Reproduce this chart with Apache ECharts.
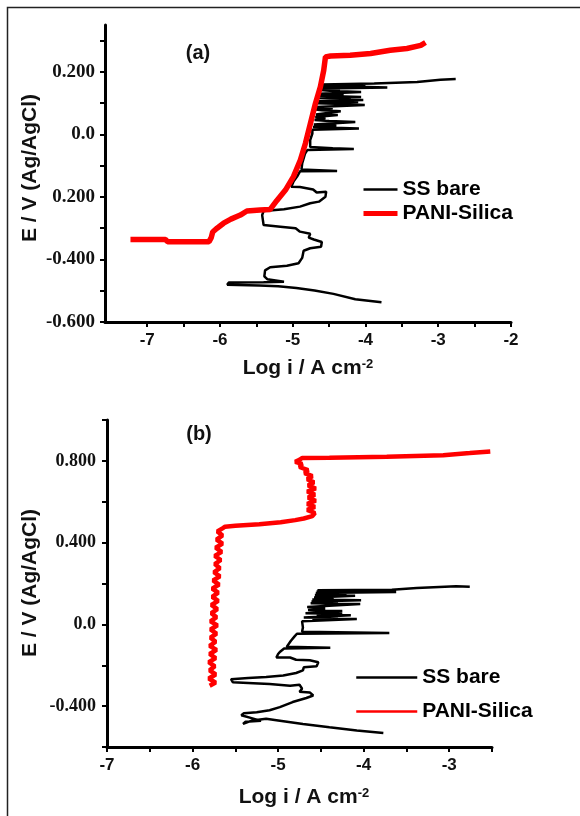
<!DOCTYPE html>
<html>
<head>
<meta charset="utf-8">
<title>Polarization curves</title>
<script src="https://cdn.jsdelivr.net/npm/echarts@6/dist/echarts.min.js"></script>
<style>html,body{margin:0;padding:0;background:#fff;}</style>
</head>
<body>
<div id="main" style="width:580px;height:816px;"></div>
<script>
// tick positions and labels
var xTicksA = [-7, -6.5, -6, -5.5, -5, -4.5, -4, -3.5, -3, -2.5, -2];
var xLabelsA = [-7, -6, -5, -4, -3, -2];
var yTicksA = [-0.6, -0.5, -0.4, -0.3, -0.2, -0.1, 0, 0.1, 0.2, 0.3];
var yLabelValuesA = [-0.6, -0.4, -0.2, 0, 0.2];
var yLabelTextsA = ['-0.600', '-0.400', '0.200', '0.0', '0.200'];

var xTicksB = [-7, -6.5, -6, -5.5, -5, -4.5, -4, -3.5, -3, -2.5];
var xLabelsB = [-7, -6, -5, -4, -3];
var yTicksB = [-0.6, -0.4, -0.2, 0, 0.2, 0.4, 0.6, 0.8, 1.0];
var yLabelValuesB = [-0.4, 0, 0.4, 0.8];
var yLabelTextsB = ['-0.400', '0.0', '0.400', '0.800'];

// panel (a) : [log i, E]
var ssBareA = [[-3.78,-0.537],[-4.14,-0.527],[-4.44,-0.510],[-4.70,-0.499],[-4.95,-0.491],[-5.20,-0.486],[-5.46,-0.483],[-5.90,-0.481],[-5.88,-0.474],[-5.40,-0.473],[-5.12,-0.471],[-5.10,-0.466],[-5.35,-0.463],[-5.39,-0.454],[-5.38,-0.435],[-5.31,-0.425],[-5.08,-0.420],[-4.92,-0.412],[-4.87,-0.395],[-4.85,-0.372],[-4.76,-0.364],[-4.61,-0.359],[-4.60,-0.344],[-4.71,-0.336],[-4.78,-0.330],[-4.76,-0.318],[-4.90,-0.311],[-4.96,-0.300],[-5.17,-0.295],[-5.40,-0.290],[-5.42,-0.258],[-5.40,-0.245],[-5.12,-0.239],[-4.90,-0.231],[-4.76,-0.220],[-4.64,-0.215],[-4.55,-0.199],[-4.54,-0.183],[-4.67,-0.186],[-4.72,-0.176],[-4.90,-0.168],[-5.02,-0.167],[-4.99,-0.151],[-4.94,-0.135],[-4.90,-0.118],[-4.39,-0.117],[-4.88,-0.112],[-4.87,-0.093],[-4.83,-0.061],[-4.80,-0.050],[-4.16,-0.047],[-4.45,-0.044],[-4.76,-0.040],[-4.76,-0.018],[-4.73,0.003],[-4.73,0.015],[-4.09,0.019],[-4.45,0.021],[-4.72,0.024],[-4.40,0.028],[-4.71,0.032],[-4.14,0.040],[-4.50,0.043],[-4.70,0.046],[-4.55,0.052],[-4.69,0.056],[-4.38,0.062],[-4.68,0.064],[-4.34,0.074],[-4.60,0.077],[-4.68,0.080],[-4.45,0.084],[-4.67,0.088],[-4.01,0.094],[-4.30,0.097],[-4.66,0.100],[-4.10,0.104],[-4.65,0.107],[-4.03,0.110],[-4.40,0.112],[-4.20,0.115],[-4.64,0.117],[-4.06,0.120],[-4.64,0.124],[-4.30,0.127],[-4.63,0.130],[-4.06,0.136],[-4.45,0.139],[-4.62,0.142],[-4.35,0.145],[-4.61,0.147],[-3.70,0.150],[-4.25,0.153],[-4.60,0.155],[-4.00,0.158],[-4.60,0.160],[-3.88,0.163],[-3.29,0.168],[-2.97,0.175],[-2.76,0.177]];
var paniSilicaA = [[-7.23,-0.336],[-6.75,-0.336],[-6.72,-0.343],[-6.15,-0.343],[-6.12,-0.330],[-6.10,-0.312],[-6.04,-0.300],[-5.95,-0.284],[-5.85,-0.271],[-5.72,-0.258],[-5.63,-0.245],[-5.45,-0.242],[-5.31,-0.240],[-5.22,-0.212],[-5.10,-0.178],[-4.99,-0.135],[-4.895,-0.082],[-4.826,-0.029],[-4.757,0.035],[-4.688,0.099],[-4.620,0.152],[-4.574,0.205],[-4.55,0.248],[-4.48,0.251],[-4.21,0.253],[-3.93,0.259],[-3.66,0.269],[-3.43,0.275],[-3.24,0.285],[-3.175,0.294]];

// panel (b)
var ssBareB = [[-3.77,-0.532],[-4.08,-0.519],[-4.40,-0.503],[-4.71,-0.487],[-5.02,-0.469],[-5.14,-0.462],[-5.30,-0.470],[-5.41,-0.487],[-5.38,-0.476],[-5.20,-0.472],[-5.30,-0.460],[-5.43,-0.445],[-5.40,-0.435],[-5.25,-0.430],[-5.10,-0.420],[-4.98,-0.405],[-4.83,-0.380],[-4.67,-0.360],[-4.59,-0.348],[-4.63,-0.333],[-4.75,-0.330],[-4.72,-0.315],[-4.75,-0.295],[-4.86,-0.300],[-5.10,-0.292],[-5.29,-0.288],[-5.53,-0.283],[-5.55,-0.268],[-5.35,-0.262],[-5.14,-0.258],[-4.94,-0.250],[-4.79,-0.238],[-4.71,-0.225],[-4.70,-0.210],[-4.55,-0.205],[-4.53,-0.185],[-4.63,-0.176],[-4.79,-0.173],[-4.86,-0.162],[-5.02,-0.162],[-5.00,-0.145],[-4.98,-0.135],[-4.93,-0.118],[-4.39,-0.114],[-4.90,-0.110],[-4.85,-0.080],[-4.81,-0.060],[-4.78,-0.046],[-3.70,-0.042],[-4.72,-0.036],[-4.71,-0.015],[-4.72,0.015],[-4.08,0.026],[-4.60,0.028],[-4.30,0.032],[-4.70,0.034],[-4.15,0.045],[-4.55,0.048],[-4.25,0.052],[-4.68,0.055],[-4.25,0.065],[-4.65,0.070],[-4.45,0.078],[-4.66,0.085],[-4.04,0.100],[-4.62,0.103],[-4.30,0.108],[-4.61,0.112],[-4.03,0.118],[-4.60,0.122],[-4.35,0.127],[-4.58,0.132],[-4.10,0.140],[-4.57,0.144],[-4.20,0.150],[-4.56,0.153],[-3.62,0.158],[-4.55,0.161],[-4.30,0.164],[-4.54,0.167],[-3.67,0.170],[-3.38,0.178],[-2.92,0.187],[-2.76,0.184]];
var paniSilicaB = [[-5.80,-0.300],[-5.73,-0.285],[-5.81,-0.265],[-5.73,-0.245],[-5.80,-0.225],[-5.74,-0.205],[-5.81,-0.185],[-5.73,-0.165],[-5.80,-0.145],[-5.72,-0.125],[-5.80,-0.105],[-5.73,-0.085],[-5.79,-0.065],[-5.72,-0.045],[-5.79,-0.025],[-5.71,-0.005],[-5.79,0.015],[-5.72,0.035],[-5.78,0.055],[-5.71,0.075],[-5.78,0.095],[-5.70,0.115],[-5.77,0.135],[-5.70,0.155],[-5.77,0.175],[-5.69,0.195],[-5.76,0.215],[-5.68,0.235],[-5.75,0.255],[-5.68,0.275],[-5.74,0.295],[-5.67,0.315],[-5.74,0.335],[-5.66,0.355],[-5.73,0.375],[-5.65,0.395],[-5.72,0.415],[-5.65,0.435],[-5.71,0.455],[-5.65,0.470],[-5.62,0.478],[-5.50,0.482],[-5.22,0.490],[-4.97,0.500],[-4.80,0.510],[-4.70,0.518],[-4.60,0.530],[-4.57,0.545],[-4.66,0.560],[-4.57,0.575],[-4.66,0.590],[-4.56,0.605],[-4.65,0.620],[-4.57,0.635],[-4.66,0.650],[-4.56,0.665],[-4.65,0.680],[-4.58,0.695],[-4.66,0.710],[-4.60,0.725],[-4.69,0.740],[-4.65,0.755],[-4.75,0.770],[-4.72,0.785],[-4.80,0.795],[-4.75,0.805],[-4.72,0.814],[-4.40,0.815],[-3.73,0.820],[-3.07,0.828],[-2.76,0.838],[-2.52,0.846]];

var myChart = echarts.init(document.getElementById('main'));

function pickLabel(values, texts) {
    return function (v) {
        for (var i = 0; i < values.length; i++) {
            if (Math.abs(values[i] - v) < 1e-9) return texts[i];
        }
        return '';
    };
}

function xAxisOf(grid, min, max, ticks, labels) {
    return {
        gridIndex: grid, type: 'value', min: min, max: max,
        axisLine: { show: true, onZero: false, lineStyle: { color: '#000', width: 3 } },
        axisTick: { show: true, customValues: ticks, length: 5, lineStyle: { color: '#000', width: 2 } },
        axisLabel: { customValues: labels, margin: 10, fontSize: 17, fontWeight: 'bold',
            fontFamily: 'Liberation Sans', color: '#111' },
        splitLine: { show: false }
    };
}

function yAxisOf(grid, min, max, ticks, values, texts, size, margin) {
    return {
        gridIndex: grid, type: 'value', min: min, max: max,
        axisLine: { show: true, onZero: false, lineStyle: { color: '#000', width: 3 } },
        axisTick: { show: true, customValues: ticks, length: 5, lineStyle: { color: '#000', width: 2 } },
        axisLabel: { customValues: values, formatter: pickLabel(values, texts), margin: margin,
            fontSize: size, fontWeight: 'bold', fontFamily: 'Liberation Serif', color: '#111' },
        splitLine: { show: false }
    };
}

var titleFont = { fontSize: 21, fontWeight: 'bold', fontFamily: 'Liberation Sans', fill: '#111' };
function textEl(str, x, y, rot, extra) {
    var st = Object.assign({ text: str, align: 'center', verticalAlign: 'middle' }, titleFont, extra || {});
    return { type: 'text', x: x, y: y, rotation: rot, style: st };
}
var supRich = { sup: { fontSize: 13, fontWeight: 'bold', fontFamily: 'Liberation Sans', fill: '#111', verticalAlign: 'top' } };

// legend icons: line only, the marker is hidden
var noMarker = { color: 'rgba(0,0,0,0)', borderWidth: 0, opacity: 0 };
function legendOf(left, top, iconW, gap, redW) {
    return {
        orient: 'vertical', left: left, top: top, padding: 0,
        itemWidth: iconW, itemHeight: 14, itemGap: gap, selectedMode: false,
        textStyle: { fontSize: 21, fontWeight: 'bold', fontFamily: 'Liberation Sans', color: '#000' },
        data: [
            { name: 'SS bare', itemStyle: noMarker, lineStyle: { width: 2.5, color: '#000' } },
            { name: 'PANI-Silica', itemStyle: noMarker, lineStyle: { width: redW, color: '#ff0000' } }
        ]
    };
}

var option = {
    animation: false,
    backgroundColor: '#fff',
    grid: [
        { left: 105, top: 25, width: 406, height: 297 },
        { left: 107, top: 420, width: 385, height: 327 }
    ],
    xAxis: [
        xAxisOf(0, -7.58, -2, xTicksA, xLabelsA),
        xAxisOf(1, -7, -2.5, xTicksB, xLabelsB)
    ],
    yAxis: [
        yAxisOf(0, -0.6, 0.35, yTicksA, yLabelValuesA, yLabelTextsA, 19, 10),
        yAxisOf(1, -0.6, 1.0, yTicksB, yLabelValuesB, yLabelTextsB, 18, 11)
    ],
    legend: [
        legendOf(361, 179, 34, 3, 5),
        legendOf(355, 667, 61, 13, 2.5)
    ],
    graphic: [
        { type: 'polyline', shape: { points: [[7.5, 816], [7.5, 7.5], [580, 7.5]] },
          style: { stroke: '#222', lineWidth: 1.5, fill: null } },
        textEl('(a)', 198, 53, 0, { fontSize: 20 }),
        textEl('(b)', 199, 434, 0, { fontSize: 20 }),
        textEl('E / V (Ag/AgCl)', 30.5, 168, Math.PI / 2),
        textEl('E / V (Ag/AgCl)', 30.5, 583, Math.PI / 2),
        textEl('Log i / A cm{sup|-2}', 308, 368, 0, { rich: supRich }),
        textEl('Log i / A cm{sup|-2}', 304, 797, 0, { rich: supRich })
    ],
    series: [
        { name: 'SS bare', type: 'line', xAxisIndex: 0, yAxisIndex: 0, data: ssBareA,
          symbol: 'none', lineStyle: { color: '#000', width: 2.5 }, itemStyle: { color: '#000' } },
        { name: 'PANI-Silica', type: 'line', xAxisIndex: 0, yAxisIndex: 0, data: paniSilicaA,
          symbol: 'none', lineStyle: { color: '#ff0000', width: 5.5 }, itemStyle: { color: '#ff0000' } },
        { name: 'SS bare', type: 'line', xAxisIndex: 1, yAxisIndex: 1, data: ssBareB,
          symbol: 'none', lineStyle: { color: '#000', width: 2.5 }, itemStyle: { color: '#000' } },
        { name: 'PANI-Silica', type: 'line', xAxisIndex: 1, yAxisIndex: 1, data: paniSilicaB,
          symbol: 'none', lineStyle: { color: '#ff0000', width: 4.5 }, itemStyle: { color: '#ff0000' } }
    ]
};
myChart.setOption(option);
</script>
</body>
</html>
